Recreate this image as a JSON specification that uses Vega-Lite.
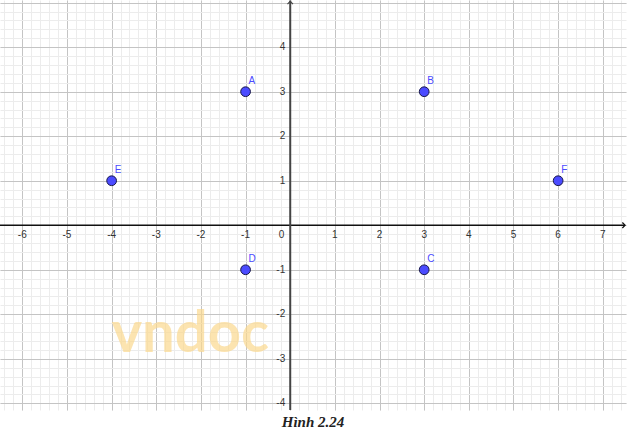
{
  "$schema": "https://vega.github.io/schema/vega-lite/v6.json",
  "width": 626,
  "height": 410,
  "autosize": "none",
  "padding": {"left": 0, "top": 0, "right": 5, "bottom": 25},
  "background": "white",
  "config": {"view": {"stroke": null}},
  "title": {
    "text": "Hình 2.24",
    "orient": "bottom",
    "anchor": "middle",
    "offset": 4,
    "font": "Liberation Serif",
    "fontSize": 15,
    "fontStyle": "italic",
    "fontWeight": "bold",
    "color": "#222222"
  },
  "datasets": {
    "points": [
      {"name": "A", "x": -1, "y": 3},
      {"name": "B", "x": 3, "y": 3},
      {"name": "C", "x": 3, "y": -1},
      {"name": "D", "x": -1, "y": -1},
      {"name": "E", "x": -4, "y": 1},
      {"name": "F", "x": 6, "y": 1}
    ],
    "xticks": [
      {"v": -6, "t": "-6"}, {"v": -5, "t": "-5"}, {"v": -4, "t": "-4"}, {"v": -3, "t": "-3"}, {"v": -2, "t": "-2"}, {"v": -1, "t": "-1"},
      {"v": 1, "t": "1"}, {"v": 2, "t": "2"}, {"v": 3, "t": "3"}, {"v": 4, "t": "4"}, {"v": 5, "t": "5"}, {"v": 6, "t": "6"}, {"v": 7, "t": "7"}
    ],
    "yticks": [
      {"v": -4, "t": "-4"}, {"v": -3, "t": "-3"}, {"v": -2, "t": "-2"}, {"v": -1, "t": "-1"},
      {"v": 1, "t": "1"}, {"v": 2, "t": "2"}, {"v": 3, "t": "3"}, {"v": 4, "t": "4"}
    ],
    "one": [{}]
  },
  "resolve": {"axis": {"x": "independent", "y": "independent"}},
  "layer": [
    {
      "data": {"name": "points"},
      "mark": {"type": "point", "opacity": 0},
      "encoding": {
        "x": {
          "field": "x", "type": "quantitative",
          "scale": {"domain": [-6.5, 7.52], "nice": false, "zero": false},
          "axis": {
            "values": [-6.4,-6.2,-6.0,-5.8,-5.6,-5.4,-5.2,-5,-4.8,-4.6,-4.4,-4.2,-4,-3.8,-3.6,-3.4,-3.2,-3,-2.8,-2.6,-2.4,-2.2,-2,-1.8,-1.6,-1.4,-1.2,-1,-0.8,-0.6,-0.4,-0.2,0,0.2,0.4,0.6,0.8,1,1.2,1.4,1.6,1.8,2,2.2,2.4,2.6,2.8,3,3.2,3.4,3.6,3.8,4,4.2,4.4,4.6,4.8,5,5.2,5.4,5.6,5.8,6,6.2,6.4,6.6,6.8,7,7.2,7.4],
            "grid": true, "gridColor": "#ececec", "gridWidth": 1,
            "domain": false, "ticks": false, "labels": false, "title": null
          }
        },
        "y": {
          "field": "y", "type": "quantitative",
          "scale": {"domain": [-4.15, 5.06], "nice": false, "zero": false},
          "axis": {
            "values": [-4,-3.8,-3.6,-3.4,-3.2,-3,-2.8,-2.6,-2.4,-2.2,-2,-1.8,-1.6,-1.4,-1.2,-1,-0.8,-0.6,-0.4,-0.2,0,0.2,0.4,0.6,0.8,1,1.2,1.4,1.6,1.8,2,2.2,2.4,2.6,2.8,3,3.2,3.4,3.6,3.8,4,4.2,4.4,4.6,4.8,5],
            "grid": true, "gridColor": "#ececec", "gridWidth": 1,
            "domain": false, "ticks": false, "labels": false, "title": null
          }
        }
      }
    },
    {
      "data": {"name": "points"},
      "mark": {"type": "point", "opacity": 0},
      "encoding": {
        "x": {
          "field": "x", "type": "quantitative",
          "axis": {
            "values": [-6,-5,-4,-3,-2,-1,0,1,2,3,4,5,6,7],
            "grid": true, "gridColor": "#c4c4c4", "gridWidth": 1,
            "domain": false, "ticks": false, "labels": false, "title": null
          }
        },
        "y": {
          "field": "y", "type": "quantitative",
          "axis": {
            "values": [-4,-3,-2,-1,0,1,2,3,4,5],
            "grid": true, "gridColor": "#c4c4c4", "gridWidth": 1,
            "domain": false, "ticks": false, "labels": false, "title": null
          }
        }
      }
    },
    {
      "data": {"name": "one"},
      "mark": {"type": "text", "text": "vndoc", "font": "Lato", "fontSize": 58, "fontWeight": "bold", "color": "#fbd98f", "opacity": 0.7, "align": "center", "baseline": "alphabetic"},
      "encoding": {
        "x": {"datum": -2.24, "type": "quantitative", "axis": null},
        "y": {"datum": -2.85, "type": "quantitative", "axis": null}
      }
    },
    {
      "data": {"name": "one"},
      "mark": {"type": "rule", "color": "#111111", "strokeWidth": 1.5},
      "encoding": {
        "x": {"datum": -6.5, "type": "quantitative", "axis": null},
        "x2": {"datum": 7.5},
        "y": {"datum": 0, "type": "quantitative", "axis": null}
      }
    },
    {
      "data": {"name": "one"},
      "mark": {"type": "rule", "color": "#444444", "strokeWidth": 2},
      "encoding": {
        "x": {"datum": 0, "type": "quantitative", "axis": null},
        "y": {"datum": -4.15, "type": "quantitative", "axis": null},
        "y2": {"datum": 5.05}
      }
    },
    {
      "data": {"name": "one"},
      "mark": {"type": "point", "shape": "M -1 -1 L 0 0 L -1 1", "filled": false, "stroke": "#111111", "strokeWidth": 1.2, "size": 30, "opacity": 1},
      "encoding": {
        "x": {"datum": 7.5, "type": "quantitative", "axis": null},
        "y": {"datum": 0, "type": "quantitative", "axis": null}
      }
    },
    {
      "data": {"name": "one"},
      "mark": {"type": "point", "shape": "M -1 1 L 0 0 L 1 1", "filled": false, "stroke": "#444444", "strokeWidth": 1.2, "size": 30, "opacity": 1},
      "encoding": {
        "x": {"datum": 0, "type": "quantitative", "axis": null},
        "y": {"datum": 5.03, "type": "quantitative", "axis": null}
      }
    },
    {
      "data": {"name": "xticks"},
      "mark": {"type": "text", "font": "Liberation Sans", "fontSize": 10, "color": "#333333", "align": "center", "baseline": "middle", "dy": 10},
      "encoding": {
        "x": {"field": "v", "type": "quantitative", "axis": null},
        "y": {"datum": 0, "type": "quantitative", "axis": null},
        "text": {"field": "t", "type": "nominal"}
      }
    },
    {
      "data": {"name": "yticks"},
      "mark": {"type": "text", "font": "Liberation Sans", "fontSize": 10, "color": "#333333", "align": "right", "baseline": "middle", "dx": -5},
      "encoding": {
        "x": {"datum": 0, "type": "quantitative", "axis": null},
        "y": {"field": "v", "type": "quantitative", "axis": null},
        "text": {"field": "t", "type": "nominal"}
      }
    },
    {
      "data": {"name": "one"},
      "mark": {"type": "text", "text": "0", "font": "Liberation Sans", "fontSize": 10, "color": "#333333", "align": "right", "baseline": "middle", "dx": -6, "dy": 10},
      "encoding": {
        "x": {"datum": 0, "type": "quantitative", "axis": null},
        "y": {"datum": 0, "type": "quantitative", "axis": null}
      }
    },
    {
      "data": {"name": "points"},
      "mark": {"type": "point", "filled": true, "fill": "#4b4bff", "stroke": "#1a1a4a", "strokeWidth": 1, "size": 95, "opacity": 1},
      "encoding": {
        "x": {"field": "x", "type": "quantitative", "axis": null},
        "y": {"field": "y", "type": "quantitative", "axis": null}
      }
    },
    {
      "data": {"name": "points"},
      "mark": {"type": "text", "font": "Liberation Sans", "fontSize": 10, "color": "#4b4bff", "align": "left", "baseline": "middle", "dx": 3, "dy": -11},
      "encoding": {
        "x": {"field": "x", "type": "quantitative", "axis": null},
        "y": {"field": "y", "type": "quantitative", "axis": null},
        "text": {"field": "name", "type": "nominal"}
      }
    }
  ]
}
